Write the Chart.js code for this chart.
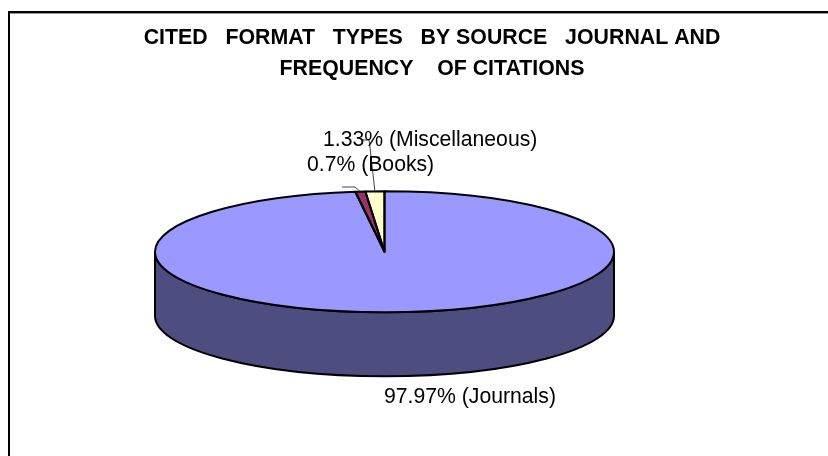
<!DOCTYPE html>
<html>
<head>
<meta charset="utf-8">
<style>
  html, body { margin: 0; padding: 0; background: #fff; overflow: hidden; }
  #frame {
    position: absolute; left: 8px; top: 11px; width: 900px; height: 600px;
    border-top: 2px solid #000; border-left: 2px solid #000;
    box-shadow: inset 0 1px 0 #999;
  }
  #chart { position: absolute; left: 0; top: 0; }
</style>
<script src="https://cdn.jsdelivr.net/npm/chart.js@4"></script>
</head>
<body>
<div id="frame"></div>
<canvas id="chart" width="828" height="456"></canvas>
<script>
// data
const titleLines = [
  "CITED   FORMAT   TYPES   BY SOURCE   JOURNAL AND",
  "FREQUENCY    OF CITATIONS"
];
const categories = ["Journals", "Books", "Miscellaneous"];
const values = [97.97, 0.7, 1.33];

// look of the pie
const sliceColors = ["#9999ff", "#993366", "#ffffcc"];
const sideColors = ["#4d4d80", "#4d1a33", "#808066"];
const SQUASH = 60.5 / 229.5;
const DEPTH = 64;
const FONT = '21.2px "Liberation Sans", Arial, sans-serif';

// label text anchors (left edge, middle of line), one per slice
const labelPos = [
  { x: 384, y: 397 },
  { x: 307, y: 165 },
  { x: 323, y: 140 }
];

// leader polylines start at these points and end on the slice rim
const leaderStart = [
  null,
  [[342, 187], [355, 187]],
  [[362, 140], [369, 140], [369.5, 143]]
];

function rimPoint(arc, angle) {
  return {
    x: arc.x + arc.outerRadius * Math.cos(angle),
    y: arc.y + arc.outerRadius * SQUASH * Math.sin(angle)
  };
}

const pie3d = {
  id: "pie3d",
  afterLayout(chart) {
    // the title sits centred on the whole frame, not on the pie
    chart.titleBlock.left = 0;
    chart.titleBlock.right = 864;
  },
  beforeDatasetsDraw(chart) {
    const ctx = chart.ctx;
    const arcs = chart.getDatasetMeta(0).data;

    // side wall, only the front half is visible
    arcs.forEach((arc, i) => {
      const from = Math.max(arc.startAngle, 0);
      const to = Math.min(arc.endAngle, Math.PI);
      if (to <= from) return;
      const rx = arc.outerRadius, ry = rx * SQUASH;
      ctx.save();
      ctx.beginPath();
      ctx.ellipse(arc.x, arc.y, rx, ry, 0, from, to);
      ctx.ellipse(arc.x, arc.y + DEPTH, rx, ry, 0, to, from, true);
      ctx.closePath();
      ctx.fillStyle = sideColors[i];
      ctx.fill();
      ctx.lineWidth = 2;
      ctx.strokeStyle = "#000";
      ctx.stroke();
      ctx.restore();
    });

    // flatten the circle the library draws into the ellipse of the top face
    const c = arcs[0];
    ctx.save();
    ctx.translate(c.x, c.y);
    ctx.scale(1, SQUASH);
    ctx.translate(-c.x, -c.y);
  },
  afterDatasetsDraw(chart) {
    const ctx = chart.ctx;
    ctx.restore();

    const arcs = chart.getDatasetMeta(0).data;

    // slice outlines, stroked unscaled so the line width stays even
    arcs.forEach(arc => {
      const rx = arc.outerRadius, ry = rx * SQUASH;
      ctx.save();
      ctx.beginPath();
      ctx.moveTo(arc.x, arc.y);
      ctx.ellipse(arc.x, arc.y, rx, ry, 0, arc.startAngle, arc.endAngle);
      ctx.closePath();
      ctx.lineWidth = 2;
      ctx.lineJoin = "round";
      ctx.strokeStyle = "#000";
      ctx.stroke();
      ctx.restore();
    });

    // leader lines
    ctx.save();
    ctx.lineWidth = 1;
    ctx.strokeStyle = "#444";
    arcs.forEach((arc, i) => {
      if (!leaderStart[i]) return;
      const end = rimPoint(arc, (arc.startAngle + arc.endAngle) / 2);
      ctx.beginPath();
      leaderStart[i].forEach((p, k) => {
        if (k === 0) ctx.moveTo(p[0], p[1]);
        else ctx.lineTo(p[0], p[1]);
      });
      ctx.lineTo(end.x, end.y);
      ctx.stroke();
    });
    ctx.restore();

    // data labels
    ctx.save();
    ctx.font = FONT;
    ctx.fillStyle = "#000";
    ctx.textAlign = "left";
    ctx.textBaseline = "middle";
    categories.forEach((name, i) => {
      ctx.fillText(values[i] + "% (" + name + ")", labelPos[i].x, labelPos[i].y);
    });
    ctx.restore();
  }
};

new Chart(document.getElementById("chart"), {
  type: "pie",
  data: {
    labels: categories,
    datasets: [{
      data: values,
      backgroundColor: sliceColors,
      borderWidth: 0,
      radius: 229.5
    }]
  },
  options: {
    responsive: false,
    animation: false,
    rotation: 0,
    layout: { padding: { left: 0, right: 59, top: 0, bottom: 37 } },
    plugins: {
      legend: { display: false },
      tooltip: { enabled: false },
      title: {
        display: true,
        text: titleLines,
        color: "#000",
        padding: { top: 22.5, bottom: 0 },
        font: { family: '"Liberation Sans", Arial, sans-serif', size: 21.33, weight: "bold", lineHeight: 31 / 21.33 }
      }
    }
  },
  plugins: [pie3d]
});
</script>
</body>
</html>
